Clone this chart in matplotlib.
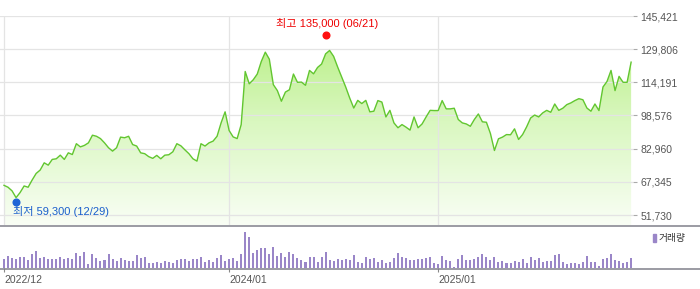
import numpy as np
import matplotlib
matplotlib.use('Agg')
import matplotlib.pyplot as plt
from matplotlib.colors import LinearSegmentedColormap
from matplotlib.patches import Rectangle
from matplotlib.lines import Line2D
from matplotlib.ticker import FuncFormatter

plt.rcParams['font.family'] = ['Liberation Sans', 'Noto Sans CJK KR', 'DejaVu Sans']

# weekly close, 2022/12 first week .. 2025/12
price = [
    65700, 64800, 63100, 59900, 62300, 65400, 64800, 68200, 71300, 72900,
    76300, 75200, 77900, 78200, 79900, 77900, 81000, 80200, 85300, 83800,
    84500, 85700, 89300, 88800, 87700, 85700, 83400, 81800, 83400, 88400,
    88100, 88800, 84900, 84200, 81000, 80600, 79200, 78400, 79800, 78200,
    79900, 80100, 81500, 85300, 84300, 82400, 80600, 78200, 77100, 85300,
    84200, 85700, 86500, 88800, 95100, 100300, 91500, 88500, 87700, 94300,
    119300, 113500, 115400, 118100, 124000, 128400, 125100, 113100, 110300, 105300,
    109600, 110700, 118100, 114200, 114300, 112800, 119800, 118200, 121200, 122800,
    127600, 129200, 126400, 121400, 116700, 112000, 106800, 102100, 105700, 104200,
    105700, 100300, 100600, 105600, 104900, 97900, 101000, 95100, 92800, 94300,
    93100, 91700, 97900, 92800, 94600, 97900, 101000, 100900, 100900, 105600,
    101700, 101700, 102000, 96700, 95100, 94600, 93500, 96700, 99300, 95600,
    95400, 90100, 82100, 87600, 88400, 89600, 89500, 92300, 87300, 89600,
    93200, 97400, 98800, 97900, 99800, 101000, 100100, 104000, 101000, 102000,
    103700, 104500, 105600, 106500, 106000, 102100, 100600, 104000, 100900, 112000,
    114600, 119800, 110300, 117000, 114200, 114200, 123700,
]

# weekly volume (relative)
volume = [
    26, 37, 29, 26, 34, 34, 23, 43, 52, 31, 34, 28, 28, 28, 34, 28, 31, 28, 46, 37,
    49, 13, 43, 31, 22, 25, 43, 28, 22, 31, 25, 22, 22, 40, 31, 34, 16, 16, 19,
    16, 22, 19, 16, 25, 28, 28, 22, 28, 28, 34, 19, 25, 19, 31, 40, 22, 28, 31, 22,
    43, 109, 94, 46, 55, 61, 61, 43, 64, 37, 46, 34, 49, 43, 31, 25, 19, 34, 34,
    19, 34, 49, 25, 22, 28, 25, 28, 25, 40, 19, 16, 34, 28, 31, 19, 25, 16, 19, 31,
    46, 34, 31, 25, 25, 28, 28, 31, 34, 16, 13, 37, 25, 22, 4, 28, 40, 25, 25,
    28, 34, 43, 34, 25, 34, 19, 22, 16, 16, 22, 19, 28, 16, 34, 25, 31, 19, 22, 22,
    40, 43, 19, 13, 16, 16, 13, 19, 37, 19, 19, 7, 28, 31, 43, 25, 22, 16, 19, 31,
]

y_ticks = [51730, 67345, 82960, 98576, 114191, 129806, 145421]
x_tick_pos = [0, 56, 108]
x_tick_labels = ['2022/12', '2024/01', '2025/01']

high_idx, high_val, high_date = 80, 135000, '06/21'
low_idx, low_val, low_date = 3, 59300, '12/29'

W, H = 700, 289
fig = plt.figure(figsize=(W / 100, H / 100), dpi=100)

def box(l, t, r, b):
    return [l / W, 1 - b / H, (r - l) / W, (b - t) / H]

x = np.arange(len(price))
xlim = (-4 / 4.02, 629 / 4.02)
ylim = (47022, 145421)

ax = fig.add_axes(box(0, 16, 633, 225))
ax.plot(x, price, color='#62c630', lw=1.0, zorder=3, solid_joinstyle='round')
poly = ax.fill_between(x, price, ylim[0], facecolor='none', edgecolor='none')
grad = np.linspace(0, 1, 256).reshape(-1, 1)
cmap = LinearSegmentedColormap.from_list('g', ['#b2ee7a', '#d9f7bf', '#f9fef5'])
im = ax.imshow(grad, aspect='auto', cmap=cmap, origin='upper',
               extent=[xlim[0], xlim[1], ylim[0], ylim[1]], zorder=1)
im.set_clip_path(poly.get_paths()[0], transform=ax.transData)
ax.set_xlim(xlim)
ax.set_ylim(ylim)

ax.set_yticks(y_ticks)
ax.yaxis.tick_right()
ax.yaxis.set_major_formatter(FuncFormatter(lambda v, p: f'{int(v):,}'))
ax.tick_params(axis='y', length=2.9, width=0.8, color='#aaaaaa', pad=2.5,
               labelsize=7.5, labelcolor='#555555')
ax.set_xticks(x_tick_pos)
ax.tick_params(axis='x', length=0, labelbottom=False)
ax.grid(True, color='#e4e4e4', lw=0.9)
ax.set_axisbelow(False)
for s in ax.spines.values():
    s.set_visible(False)

# high / low markers
ax.plot([high_idx], [high_val], 'o', color='#ff1010', ms=4.8, zorder=5,
        transform=ax.transData + matplotlib.transforms.ScaledTranslation(0, 2 / 72, fig.dpi_scale_trans),
        clip_on=False)
ax.annotate(f'최고 {high_val:,} ({high_date})', xy=(high_idx, high_val), xytext=(1, 10.2),
            textcoords='offset points', ha='center', va='center', fontsize=8, color='#ee0000')
ax.plot([low_idx], [low_val], 'o', color='#1f66d6', ms=4.8, zorder=5,
        transform=ax.transData + matplotlib.transforms.ScaledTranslation(0, -2.4 / 72, fig.dpi_scale_trans),
        clip_on=False)
ax.annotate(f'최저 {low_val:,} ({low_date})', xy=(low_idx, low_val), xytext=(-2.2, -8.7),
            textcoords='offset points', ha='left', va='center', fontsize=8, color='#1a5fcc')

# volume panel
axv = fig.add_axes(box(0, 226, 633, 268))
axv.bar(x, volume, width=0.5, color='#9a86c8', zorder=2)
axv.set_xlim(xlim)
axv.set_ylim(0, 127)
axv.set_yticks([])
axv.set_xticks(x_tick_pos)
axv.set_xticklabels(x_tick_labels, ha='left')
axv.tick_params(axis='x', length=2.9, width=0.8, color='#888888', pad=2,
                labelsize=7.5, labelcolor='#555555')
for s in axv.spines.values():
    s.set_visible(False)

# full-width dividers
fig.add_artist(Line2D([0, 1], [1 - 225.5 / H] * 2, color='#80808a', lw=1.1))
fig.add_artist(Line2D([0, 1], [1 - 268.5 / H] * 2, color='#80808a', lw=1.1))

# legend
fig.add_artist(Rectangle((652.7 / W, 1 - 241.7 / H), 3 / W, 8 / H,
                         transform=fig.transFigure, color='#9a86c8'))
fig.text(659 / W, 1 - 238 / H, '거래량', fontsize=7, color='#333333', va='center', ha='left')

fig.savefig('out.png', dpi=100)
